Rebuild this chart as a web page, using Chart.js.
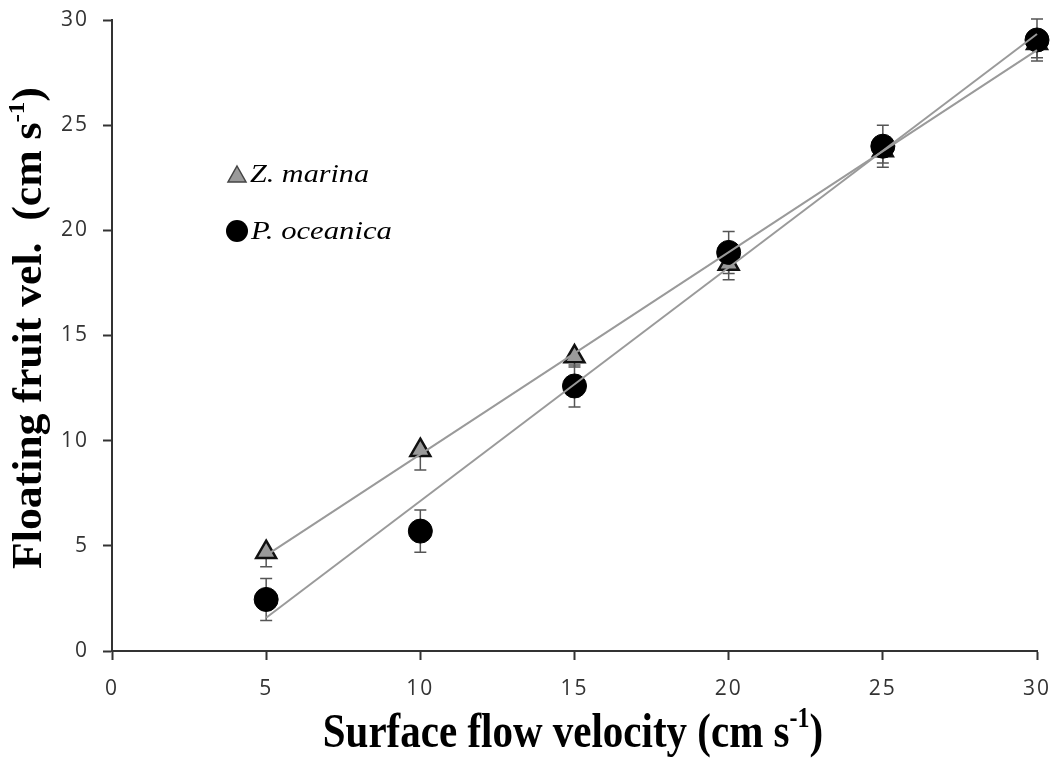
<!DOCTYPE html>
<html>
<head>
<meta charset="utf-8">
<script src="https://cdn.jsdelivr.net/npm/chart.js@4.4.1/dist/chart.umd.min.js"></script>
<style>
  html, body { margin: 0; padding: 0; background: #fff; }
  #wrap { width: 1056px; height: 758px; position: relative; }
</style>
</head>
<body>
<div id="wrap"><canvas id="flowChart"></canvas></div>
<script>
// values
var flowVel = [5, 10, 15, 20, 25, 30];
var zMarina = [4.7, 9.55, 14.0, 18.4, 23.8, 28.9];
var zMarinaErr = [0.7, 0.95, 0.5, 0.75, 0.6, 0.7];   // only the lower bar shows
var pOceanica = [2.45, 5.7, 12.6, 18.95, 24.0, 29.05];
var pOceanicaErr = [1.0, 1.0, 1.0, 1.0, 1.0, 1.0];
var yTicks = [0, 5, 10, 15, 20, 25, 30];
var xTicks = [0, 5, 10, 15, 20, 25, 30];

function toPoints(xs, ys) {
  return xs.map(function (x, i) { return { x: x, y: ys[i] }; });
}

// least squares line, drawn over the data range
function fitLine(xs, ys) {
  var n = xs.length, mx = 0, my = 0;
  for (var i = 0; i < n; i++) { mx += xs[i]; my += ys[i]; }
  mx /= n; my /= n;
  var sxy = 0, sxx = 0;
  for (var j = 0; j < n; j++) {
    sxy += (xs[j] - mx) * (ys[j] - my);
    sxx += (xs[j] - mx) * (xs[j] - mx);
  }
  var b = sxy / sxx, a = my - b * mx;
  var x0 = xs[0], x1 = xs[n - 1];
  return [{ x: x0, y: a + b * x0 }, { x: x1, y: a + b * x1 }];
}

var errorBars = {
  id: 'errorBars',
  beforeDatasetsDraw: function (chart) {
    var ctx = chart.ctx, xs = chart.scales.x, ys = chart.scales.y;
    ctx.letterSpacing = '0px';
    // [values, errors, draw upper half]
    var sets = [[zMarina, zMarinaErr, false], [pOceanica, pOceanicaErr, true]];
    ctx.save();
    ctx.strokeStyle = '#555';
    ctx.lineWidth = 1.5;
    sets.forEach(function (s) {
      flowVel.forEach(function (v, i) {
        var px = xs.getPixelForValue(v);
        var mid = ys.getPixelForValue(s[0][i]);
        var top = s[2] ? ys.getPixelForValue(s[0][i] + s[1][i]) : mid;
        var bot = ys.getPixelForValue(s[0][i] - s[1][i]);
        ctx.beginPath();
        ctx.moveTo(px, top); ctx.lineTo(px, bot);
        if (s[2]) { ctx.moveTo(px - 6, top); ctx.lineTo(px + 6, top); }
        ctx.moveTo(px - 6, bot); ctx.lineTo(px + 6, bot);
        ctx.stroke();
      });
    });
    ctx.restore();
  }
};

function drawTitle(ctx, a, size, stretch) {
  var big = 'bold ' + size + 'px "Liberation Serif", "Times New Roman", serif';
  var sup = 'bold ' + Math.round(size * 0.58) + 'px "Liberation Serif", "Times New Roman", serif';
  ctx.font = big;
  var wa = ctx.measureText(a).width, wc = ctx.measureText(')').width;
  ctx.font = sup;
  var wb = ctx.measureText('-1').width;
  var sx = -(wa + wb + wc) / 2;
  ctx.scale(1, stretch);
  ctx.font = big; ctx.fillText(a, sx, 0);
  ctx.font = sup; ctx.fillText('-1', sx + wa, -size * 0.4);
  ctx.font = big; ctx.fillText(')', sx + wa + wb, 0);
}

var extras = {
  id: 'extras',
  afterDraw: function (chart) {
    var ctx = chart.ctx;
    ctx.letterSpacing = '0px';
    ctx.fillStyle = '#000';
    ctx.textBaseline = 'alphabetic';
    ctx.textAlign = 'left';

    // x title
    ctx.save();
    ctx.translate(573, 747);
    drawTitle(ctx, 'Surface flow velocity (cm s', 41, 1.2);
    ctx.restore();

    // y title
    ctx.save();
    ctx.translate(41, 328);
    ctx.rotate(-Math.PI / 2);
    ctx.scale(1.04, 1);
    drawTitle(ctx, 'Floating fruit vel.  (cm s', 42, 1);
    ctx.restore();

    // legend
    ctx.save();
    ctx.fillStyle = '#9a9a9a';
    ctx.strokeStyle = '#444';
    ctx.lineWidth = 1.5;
    ctx.beginPath();
    ctx.moveTo(237, 166); ctx.lineTo(246, 182); ctx.lineTo(228, 182); ctx.closePath();
    ctx.fill(); ctx.stroke();
    ctx.fillStyle = '#000';
    ctx.beginPath(); ctx.arc(237, 231, 11, 0, Math.PI * 2); ctx.fill();
    ctx.font = 'italic 26px "Liberation Serif", "Times New Roman", serif';
    ctx.save();
    ctx.translate(250, 182); ctx.scale(1.16, 1);
    ctx.fillText('Z. marina', 0, 0);
    ctx.restore();
    ctx.save();
    ctx.translate(251, 239); ctx.scale(1.18, 1);
    ctx.fillText('P. oceanica', 0, 0);
    ctx.restore();
    ctx.restore();
  }
};

var tickFont = { family: '"Open Sans", sans-serif', size: 21 };

function noEdgePadding(s) {
  s.paddingLeft = 0; s.paddingRight = 0; s.paddingTop = 0; s.paddingBottom = 0;
}

var chart = new Chart(document.getElementById('flowChart'), {
  type: 'scatter',
  data: {
    datasets: [
      {
        label: 'Z. marina fit',
        type: 'line',
        data: fitLine(flowVel, zMarina),
        borderColor: '#9a9a9a',
        borderWidth: 2,
        pointRadius: 0,
        clip: false,
        order: 0
      },
      {
        label: 'P. oceanica fit',
        type: 'line',
        data: fitLine(flowVel, pOceanica),
        borderColor: '#9a9a9a',
        borderWidth: 2,
        pointRadius: 0,
        clip: false,
        order: 0
      },
      {
        label: 'P. oceanica',
        data: toPoints(flowVel, pOceanica),
        pointStyle: 'circle',
        pointRadius: 12,
        backgroundColor: '#000',
        borderColor: '#000',
        borderWidth: 1,
        clip: false,
        order: 1
      },
      {
        label: 'Z. marina',
        data: toPoints(flowVel, zMarina),
        pointStyle: 'triangle',
        pointRadius: 11.5,
        backgroundColor: '#9a9a9a',
        borderColor: '#111',
        borderWidth: 2.5,
        clip: false,
        order: 2
      }
    ]
  },
  options: {
    responsive: true,
    maintainAspectRatio: false,
    animation: false,
    layout: { autoPadding: false, padding: { top: 20, right: 19, left: 0, bottom: 0 } },
    scales: {
      x: {
        type: 'linear',
        min: 0, max: 30,
        afterBuildTicks: function (s) { s.ticks = xTicks.map(function (v) { return { value: v }; }); },
        afterFit: function (s) { s.height = 107; noEdgePadding(s); },
        grid: { drawOnChartArea: false, tickLength: 9, tickColor: '#333', tickWidth: 2 },
        border: { color: '#333', width: 2 },
        ticks: { color: '#333', padding: 16, font: tickFont }
      },
      y: {
        type: 'linear',
        min: 0, max: 30,
        afterBuildTicks: function (s) { s.ticks = yTicks.map(function (v) { return { value: v }; }); },
        afterFit: function (s) { s.width = 112; noEdgePadding(s); },
        grid: { drawOnChartArea: false, tickLength: 9, tickColor: '#333', tickWidth: 2 },
        border: { color: '#333', width: 2 },
        ticks: { color: '#333', padding: 14, font: tickFont }
      }
    },
    plugins: {
      legend: { display: false },
      tooltip: { enabled: false }
    }
  },
  plugins: [{
    id: 'spacing',
    beforeDraw: function (c) { c.ctx.letterSpacing = '2px'; }
  }, errorBars, extras]
});
</script>
</body>
</html>
